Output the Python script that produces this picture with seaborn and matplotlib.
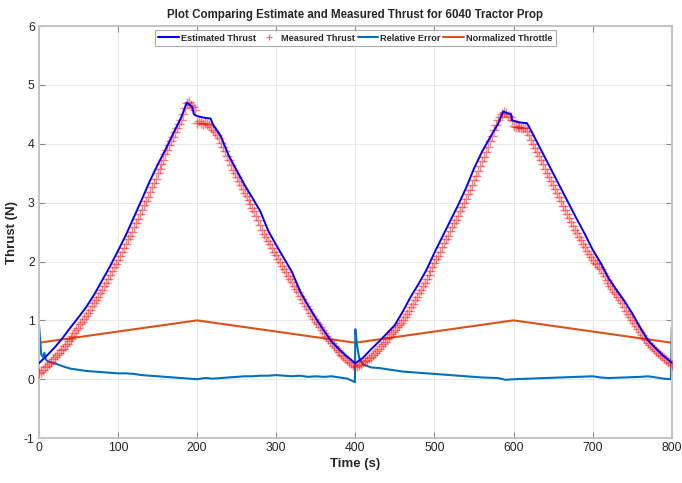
import numpy as np
import pandas as pd
import matplotlib
matplotlib.use("Agg")
import matplotlib.pyplot as plt
from matplotlib.lines import Line2D
import seaborn as sns

# Estimated thrust (N) from the model
est_time = [0, 10, 20, 30, 40, 50, 60, 70, 80, 90, 100, 110, 120, 130, 140, 150, 160, 170, 180,
            187, 190, 194, 196, 200, 210, 217, 220, 230, 240, 250, 260, 270, 280, 290, 300,
            310, 320, 330, 340, 350, 360, 370, 380, 390, 400,
            410, 420, 430, 440, 450, 460, 470, 480, 490, 500, 510, 520, 530, 540, 550, 560,
            570, 580, 587, 592, 597, 598, 605, 610, 617, 620, 630, 640, 650, 660, 670, 680,
            690, 700, 710, 720, 730, 740, 750, 760, 770, 780, 790, 800]
est_thrust = [0.27, 0.40, 0.54, 0.70, 0.88, 1.05, 1.23, 1.44, 1.68, 1.92, 2.18, 2.45, 2.75, 3.05,
              3.36, 3.64, 3.90, 4.18, 4.45, 4.70, 4.67, 4.62, 4.50, 4.47, 4.44, 4.43, 4.33, 4.13,
              3.80, 3.55, 3.30, 3.08, 2.85, 2.52, 2.28, 2.05, 1.82, 1.50, 1.26, 1.04, 0.83, 0.64,
              0.50, 0.38, 0.27,
              0.37, 0.51, 0.64, 0.78, 0.92, 1.15, 1.40, 1.62, 1.86, 2.15, 2.42, 2.69, 2.96, 3.25,
              3.58, 3.86, 4.10, 4.33, 4.55, 4.52, 4.50, 4.40, 4.37, 4.36, 4.35, 4.28, 4.02, 3.76,
              3.50, 3.24, 2.98, 2.72, 2.47, 2.20, 1.98, 1.72, 1.52, 1.33, 1.12, 0.88, 0.66, 0.52,
              0.39, 0.28]

# Measured thrust (N), logged every 2.5 s from 0 to 800 s (one row = 50 s)
meas_time = np.arange(0, 800.1, 2.5)
meas_thrust = [
    0.10, 0.12, 0.16, 0.20, 0.22, 0.26, 0.29, 0.34, 0.37, 0.41, 0.44, 0.49, 0.52, 0.57, 0.60, 0.65, 0.69, 0.74, 0.78, 0.83,
    0.87, 0.93, 0.97, 1.03, 1.07, 1.13, 1.18, 1.24, 1.29, 1.35, 1.40, 1.47, 1.52, 1.58, 1.64, 1.71, 1.77, 1.84, 1.90, 1.95,
    2.02, 2.10, 2.16, 2.23, 2.30, 2.38, 2.44, 2.50, 2.58, 2.66, 2.73, 2.80, 2.88, 2.96, 3.03, 3.10, 3.18, 3.27, 3.34, 3.41,
    3.50, 3.58, 3.66, 3.73, 3.82, 3.90, 3.98, 4.04, 4.12, 4.20, 4.26, 4.33, 4.40, 4.50, 4.60, 4.70, 4.71, 4.66, 4.63, 4.58,
    4.36, 4.38, 4.36, 4.34, 4.35, 4.33, 4.32, 4.29, 4.24, 4.20, 4.15, 4.09, 4.02, 3.95, 3.88, 3.80, 3.72, 3.64, 3.56, 3.50,
    3.43, 3.37, 3.30, 3.24, 3.17, 3.11, 3.04, 2.97, 2.91, 2.85, 2.78, 2.70, 2.62, 2.54, 2.47, 2.41, 2.35, 2.29, 2.23, 2.17,
    2.11, 2.05, 1.99, 1.93, 1.87, 1.82, 1.76, 1.71, 1.65, 1.59, 1.53, 1.48, 1.42, 1.36, 1.30, 1.25, 1.19, 1.13, 1.08, 1.03,
    0.98, 0.93, 0.88, 0.83, 0.78, 0.73, 0.69, 0.65, 0.61, 0.57, 0.53, 0.49, 0.46, 0.42, 0.39, 0.36, 0.33, 0.30, 0.27, 0.24,
    0.20, 0.22, 0.24, 0.26, 0.29, 0.31, 0.33, 0.36, 0.38, 0.42, 0.45, 0.48, 0.52, 0.56, 0.60, 0.64, 0.68, 0.72, 0.76, 0.80,
    0.84, 0.88, 0.92, 0.96, 1.00, 1.05, 1.10, 1.16, 1.22, 1.28, 1.34, 1.40, 1.46, 1.52, 1.58, 1.64, 1.70, 1.77, 1.84, 1.90,
    1.97, 2.04, 2.10, 2.17, 2.24, 2.31, 2.38, 2.44, 2.51, 2.58, 2.65, 2.71, 2.78, 2.85, 2.92, 2.99, 3.06, 3.14, 3.22, 3.30,
    3.38, 3.46, 3.54, 3.62, 3.70, 3.78, 3.86, 3.95, 4.04, 4.14, 4.23, 4.32, 4.40, 4.46, 4.50, 4.54, 4.52, 4.48, 4.45, 4.40,
    4.30, 4.29, 4.28, 4.28, 4.27, 4.26, 4.26, 4.22, 4.15, 4.07, 4.00, 3.93, 3.86, 3.79, 3.72, 3.65, 3.58, 3.51, 3.44, 3.37,
    3.30, 3.23, 3.16, 3.09, 3.02, 2.95, 2.88, 2.81, 2.74, 2.67, 2.61, 2.54, 2.48, 2.42, 2.36, 2.30, 2.24, 2.18, 2.12, 2.07,
    2.02, 1.98, 1.95, 1.91, 1.87, 1.81, 1.75, 1.69, 1.64, 1.58, 1.53, 1.48, 1.44, 1.40, 1.35, 1.29, 1.23, 1.16, 1.10, 1.05,
    1.00, 0.95, 0.90, 0.85, 0.80, 0.75, 0.70, 0.66, 0.62, 0.58, 0.55, 0.51, 0.48, 0.45, 0.42, 0.39, 0.36, 0.33, 0.30, 0.27,
    0.25,
]

# Relative error between estimate and measurement
err_time = [0, 2, 3, 5, 7, 9, 12, 20, 30, 40, 50, 60, 70, 80, 90, 100, 110, 120, 130, 140, 150,
            160, 170, 180, 190, 200, 210, 220, 230, 240, 250, 260, 270, 280, 290, 300, 310, 320,
            330, 340, 350, 360, 370, 380, 390, 398, 399.5,
            400, 402, 405, 410, 420, 430, 440, 450, 460, 470, 480, 490, 500, 520, 540, 560, 580,
            590, 600, 620, 640, 660, 680, 700, 710, 720, 740, 760, 770, 780, 790, 799, 800]
rel_error = [0.95, 0.60, 0.42, 0.38, 0.45, 0.33, 0.30, 0.27, 0.22, 0.18, 0.16, 0.14, 0.13, 0.12,
             0.11, 0.10, 0.10, 0.09, 0.07, 0.06, 0.05, 0.04, 0.03, 0.02, 0.01, 0.00, 0.02, 0.01,
             0.02, 0.03, 0.04, 0.05, 0.05, 0.06, 0.06, 0.07, 0.06, 0.05, 0.06, 0.04, 0.05, 0.04,
             0.05, 0.03, 0.01, -0.04, -0.05,
             0.85, 0.60, 0.35, 0.25, 0.20, 0.19, 0.17, 0.15, 0.13, 0.12, 0.11, 0.10, 0.09, 0.07,
             0.05, 0.03, 0.02, -0.01, 0.00, 0.01, 0.02, 0.03, 0.04, 0.05, 0.03, 0.02, 0.03, 0.04,
             0.05, 0.03, 0.01, 0.00, 0.88]

# Normalized throttle command
thr_time = [0, 200, 400, 600, 800]
throttle = [0.62, 1.00, 0.62, 1.00, 0.62]

sns.set_theme(style="whitegrid")
plt.rcParams["font.family"] = ["Liberation Sans", "DejaVu Sans"]
plt.rcParams["axes.unicode_minus"] = False

fig = plt.figure(figsize=(6.82, 4.83), dpi=100)
ax = fig.add_axes([0.057, 0.093, 0.928, 0.853])

est_df = pd.DataFrame({"t": est_time, "v": est_thrust})
meas_df = pd.DataFrame({"t": meas_time, "v": meas_thrust})
err_df = pd.DataFrame({"t": err_time, "v": rel_error})
thr_df = pd.DataFrame({"t": thr_time, "v": throttle})

c_est = "#0000ff"
c_meas = "#ff0000"
c_err = "#0072bd"
c_thr = "#d95319"

sns.lineplot(data=thr_df, x="t", y="v", ax=ax, color=c_thr, lw=1.5, sort=False,
             estimator=None, zorder=2)
sns.lineplot(data=err_df, x="t", y="v", ax=ax, color=c_err, lw=1.5, sort=False,
             estimator=None, zorder=2)
sns.scatterplot(data=meas_df, x="t", y="v", ax=ax, marker="+", color=c_meas, s=42,
                linewidth=1.0, alpha=0.5, zorder=3)
sns.lineplot(data=est_df, x="t", y="v", ax=ax, color=c_est, lw=1.4, sort=False,
             estimator=None, zorder=4)

ax.set_xlim(0, 800)
ax.set_ylim(-1, 6)
ax.set_xticks(range(0, 801, 100))
ax.set_yticks(range(-1, 7))
ax.grid(True, color="#e8e8e8", lw=0.7)
ax.set_facecolor("white")
for s in ax.spines.values():
    s.set_visible(True)
    s.set_color("#c4c4c4")
    s.set_linewidth(1.4)
ax.tick_params(axis="both", direction="in", length=4, width=0.8, color="#8a8a8a",
               labelsize=8.8, labelcolor="#262626", pad=3,
               top=True, right=True, bottom=True, left=True)

ax.set_title("Plot Comparing Estimate and Measured Thrust for 6040 Tractor Prop",
             fontsize=8.3, fontweight="bold", pad=6)
ax.set_xlabel("Time (s)", fontsize=9.5, fontweight="bold", labelpad=3)
ax.set_ylabel("Thrust (N)", fontsize=9.5, fontweight="bold", labelpad=4)

handles = [
    Line2D([], [], color=c_est, lw=1.5),
    Line2D([], [], color=c_meas, marker="+", ls="none", ms=4.5, mew=0.8, alpha=0.6),
    Line2D([], [], color=c_err, lw=1.5),
    Line2D([], [], color=c_thr, lw=1.5),
]
labels = ["Estimated Thrust", "Measured Thrust", "Relative Error", "Normalized Throttle"]
leg = ax.legend(handles, labels, loc="upper center", bbox_to_anchor=(0.5, 0.995), ncol=4,
                fontsize=6.6, frameon=True, fancybox=False, handlelength=2.2,
                handletextpad=0.25, columnspacing=0.3, borderpad=0.4, borderaxespad=0.2)
leg.get_frame().set_edgecolor("#9a9a9a")
leg.get_frame().set_linewidth(0.8)
for t in leg.get_texts():
    t.set_fontweight("bold")

fig.savefig("out.png", dpi=100, facecolor="white")
